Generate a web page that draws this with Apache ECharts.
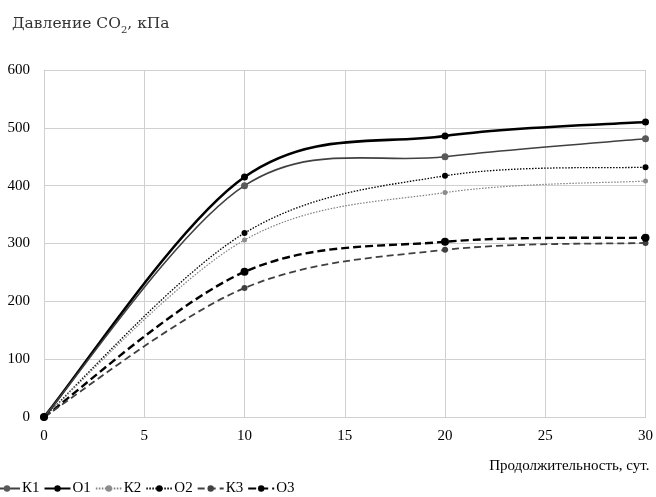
<!DOCTYPE html>
<html><head><meta charset="utf-8">
<script src="https://cdn.jsdelivr.net/npm/echarts@6/dist/echarts.min.js"></script>
<style>html,body{margin:0;padding:0;background:#fff}#c{width:656px;height:497px}</style>
</head><body><div id="c"></div>
<script>
const days = [0, 10, 20, 30];
const K1 = [0, 400, 450, 481];
const O1 = [0, 415, 486, 510];
const K2 = [0, 306, 388, 408];
const O2 = [0, 318, 417, 432];
const K3 = [0, 223, 289, 301];
const O3 = [0, 251, 303, 310];
const names = ['К1', 'О1', 'К2', 'О2', 'К3', 'О3'];
const yTicks = [0, 100, 200, 300, 400, 500, 600];
const xTicks = [0, 5, 10, 15, 20, 25, 30];

const font = '"Liberation Serif", "DejaVu Serif", serif';
const styles = [
  {c:'#404040', m:'#595959', w:1.6, t:'solid', s:7},
  {c:'#000000', m:'#000000', w:2.6, t:'solid', s:7},
  {c:'#7f7f7f', m:'#8c8c8c', w:1.2, t:[1.5,1.5], s:5},
  {c:'#000000', m:'#000000', w:1.3, t:[1.5,1.5], s:6},
  {c:'#404040', m:'#404040', w:1.8, t:[7,4], s:6},
  {c:'#000000', m:'#000000', w:2.4, t:[8,4], s:8}
];
const data = [K1, O1, K2, O2, K3, O3];

// Smooth curve (Catmull-Rom style, like spreadsheet smoothing) through points placed by the axes
function curveItem(pts, st) {
  return function (params, api) {
    if (params.dataIndex !== 0) return null;
    const p = pts.map(v => api.coord(v));
    let d = 'M' + p[0][0] + ' ' + p[0][1];
    for (let i = 0; i < p.length - 1; i++) {
      const a = p[i - 1] || p[i], b = p[i], c = p[i + 1], e = p[i + 2] || p[i + 1];
      const c1 = [b[0] + (c[0] - a[0]) / 6, b[1] + (c[1] - a[1]) / 6];
      const c2 = [c[0] - (e[0] - b[0]) / 6, c[1] - (e[1] - b[1]) / 6];
      d += ' C' + c1[0] + ' ' + c1[1] + ' ' + c2[0] + ' ' + c2[1] + ' ' + c[0] + ' ' + c[1];
    }
    return {
      type: 'path', shape: {pathData: d},
      style: {fill: 'none', stroke: st.c, lineWidth: st.w, lineDash: st.t === 'solid' ? null : st.t}
    };
  };
}

const series = [];
data.forEach((arr, i) => {
  const pts = days.map((d, j) => [d, arr[j]]);
  series.push({
    type: 'custom', coordinateSystem: 'cartesian2d',
    data: pts, renderItem: curveItem(pts, styles[i]),
    silent: true, z: 2 + (6 - i) * 0.1
  });
  series.push({
    name: names[i], type: 'line', smooth: false,
    data: pts,
    symbol: 'circle', symbolSize: styles[i].s,
    lineStyle: {color: styles[i].c, width: styles[i].w, type: styles[i].t, opacity: 0},
    itemStyle: {color: styles[i].m},
    z: 5
  });
});

const chart = echarts.init(document.getElementById('c'));
chart.setOption({
  animation: false,
  textStyle: {fontFamily: font},
  title: {
    text: '{a|Давление CO}{s|2}{a|, кПа}',
    left: 7, top: 8,
    textStyle: {rich: {
      a: {fontFamily: '"DejaVu Serif", serif', fontSize: 15.5, fontWeight: 'normal', color: '#333'},
      s: {fontFamily: '"DejaVu Serif", serif', fontSize: 10, fontWeight: 'normal', color: '#333', verticalAlign: 'bottom', padding: [12,0,0,0]}
    }}
  },
  grid: {left: 44, right: 10, top: 70, bottom: 80},
  xAxis: {
    type: 'value', min: 0, max: 30, interval: 5,
    name: 'Продолжительность, сут.', nameLocation: 'end',
    nameGap: 0,
    nameTextStyle: {fontFamily: font, fontSize: 15, color: '#000', align: 'right', verticalAlign: 'top', padding: [42, -4, 0, 0]},
    axisLine: {lineStyle: {color: '#d0d0d0'}},
    axisTick: {show: false},
    axisLabel: {fontFamily: font, fontSize: 15, color: '#000', margin: 12},
    splitLine: {show: true, lineStyle: {color: '#d0d0d0'}}
  },
  yAxis: {
    type: 'value', min: 0, max: 600, interval: 100,
    axisLine: {show: true, lineStyle: {color: '#d0d0d0'}},
    axisTick: {show: false},
    axisLabel: {fontFamily: font, fontSize: 15, color: '#000', margin: 14},
    splitLine: {show: true, lineStyle: {color: '#d0d0d0'}}
  },
  legend: {
    left: -12, bottom: -4, itemGap: 4, itemWidth: 26, itemHeight: 8,
    textStyle: {fontFamily: font, fontSize: 15, color: '#000', padding: [0,0,0,-3]},
    data: names.map((n, i) => ({name: n, lineStyle: {opacity: 1}}))
  },
  series: series
});
</script></body></html>
